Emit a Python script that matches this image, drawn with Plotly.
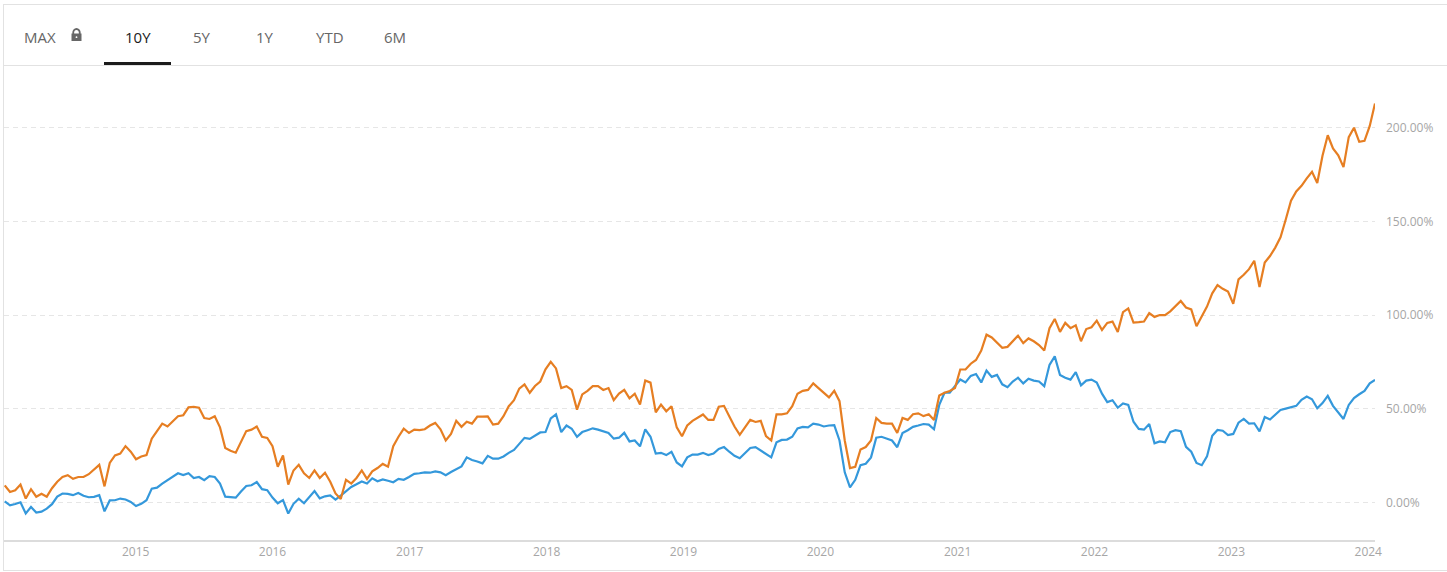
import pandas as pd
import plotly.graph_objects as go

# fortnightly closes, cumulative return in %
dates = pd.date_range("2014-01-17", periods=262, freq="14D")

orange_ret = [
    9, 5.5, 6.4, 9.5, 2, 7, 3, 4.6, 3, 7.5, 11, 13.5, 14.5, 12.5, 13.5, 13.5, 15, 17.5, 20, 8.5,
    21, 25, 26, 30, 27, 23, 24.5, 25.2, 34, 38, 42, 40.5, 43, 46, 46.5, 50.7, 51, 50.5, 45, 44.5,
    46, 40, 29, 27.5, 26.5, 32.5, 38,
    38.8, 40.5, 35, 34.4, 30, 19, 25, 9.5, 17, 20, 15.5, 13, 17, 13, 15.8, 11, 4.7, 1.8, 12, 10,
    13, 17, 12.5, 16.5, 18.3, 20.5, 19, 30, 35, 39.3, 37, 38.8, 38.5, 39, 41, 42.4, 39, 33, 36.5,
    43.5, 40.3, 43, 42, 45.7, 45.7,
    45.9, 41.5, 42, 46, 51.3, 54.5, 60.7, 63, 58.5, 62.1, 64.5, 71, 75, 71.5, 61, 62, 60, 49.5,
    57.6, 59.5, 62, 62, 60, 61, 54.5, 58, 60, 55.5, 58, 52.2, 65, 63.9, 48, 52.2, 48.6, 51.3, 40,
    35.3, 41, 43.5, 45, 46.9, 44, 44, 51, 51.5,
    46, 40.5, 36, 40.3, 44, 42.9, 43.5, 35.3, 33, 47, 47, 47.5, 51.3, 58, 59.5, 60, 63.5, 61,
    58.5, 56, 59.5, 54, 33, 18.3, 19, 28.2, 29.5, 33, 45, 42.4, 42, 42, 37, 45, 44, 47, 47.5, 46,
    47, 44, 57, 58.5, 59.4, 61, 70.9, 70.9, 74,
    76, 81, 89.5, 88, 85.5, 82.5, 83, 86, 89, 85, 87.5, 86, 84, 81, 93, 97.9, 91, 95.8, 93, 94.5,
    86, 92.5, 93.5, 97, 92, 95.8, 96.5, 91, 101.5, 103.5, 96, 96.2, 96.5, 101, 99, 100, 100, 102,
    104.5, 107.5, 104, 103, 94, 99.6, 104.5,
    111.6, 116, 114, 112.5, 106, 119, 121.5, 124.5, 129, 115, 128, 131.5, 136, 141.5, 151, 161,
    166, 169, 173, 176.5, 170.5, 185, 196, 189, 185.3, 179, 195, 200, 192.5, 193, 201, 213,
]

blue_ret = [
    0.5, -1.6, -0.9, 0, -6, -2.5, -5.5, -5, -3.4, -1, 3, 4.7, 4.5, 3.8, 5, 3.5, 2.7, 2.9, 3.8, -4.8,
    1, 1.1, 2, 1.5, 0.2, -2, -0.8, 1.1, 7.3, 7.8, 10, 11.8, 14, 15.5, 14.5, 15.5, 13, 13.5, 11.8,
    14, 13.5, 10, 3, 2.7, 2.5, 5.8, 8.7,
    9.1, 10.8, 7, 6.5, 2.5, -0.5, 1.2, -6, -0.8, 1.9, -0.5, 2.5, 6, 2.1, 3.2, 3.7, 1.4, 3.6, 5.8,
    8.2, 9.6, 11.1, 10, 12.8, 11.2, 12.2, 11.5, 10.7, 12.5, 12, 13.5, 15.2, 15.5, 16, 15.8, 16.5,
    16, 14.5, 16.2, 17.9, 19.2, 24, 22.6, 21.8, 20.8,
    24.8, 23.3, 23.3, 24.5, 26.4, 28, 31.2, 34.4, 33.9, 35.8, 37.3, 37.5, 44.8, 47, 37.5, 41, 39.3,
    35, 37.5, 38.5, 39.5, 38.8, 38, 37, 34, 34.5, 37.1, 32.5, 33, 29.9, 39, 35, 26, 26.4, 25.2, 27,
    21.3, 19.2, 24, 25.5, 25.5, 26.4, 25.2, 26, 28.5, 29.5,
    27, 24.8, 23.5, 26.5, 29, 29.5, 27.5, 25.8, 24, 32, 33.3, 33.5, 35, 39.5, 40.3, 40, 42, 41.5,
    40.5, 41, 41.2, 33, 16, 8, 12, 19.8, 20.6, 24, 34.5, 35, 34, 33, 29.4, 37, 38.5, 40.3, 41,
    41.8, 41.5, 39, 52, 58.5, 58.5, 62, 65.6, 64, 67.5,
    68.5, 64, 70.4, 67, 68, 63, 61.5, 64.5, 66.5, 63.5, 66, 65, 64.5, 62, 73.4, 77.9, 68, 66.5,
    65.5, 69.5, 62.5, 65, 65.5, 64, 58, 53.5, 54.5, 50.5, 52.8, 52, 43, 39.2, 38.8, 41.8, 31.5,
    32.5, 32, 37.5, 38.5, 38, 29.6, 27, 21, 19.8, 24.5,
    35.5, 38.6, 38.2, 35.9, 36.5, 42.5, 44.5, 42, 42.2, 37.9, 45.5, 44.2, 46.5, 49.3, 50, 50.8,
    51.5, 54.7, 56.5, 55, 50.2, 53, 56.8, 51.5, 47.9, 44.5, 52, 55.7, 57.7, 59.5, 63.5, 65.4,
]

year_ticks = [str(y) for y in range(2015, 2025)]
pct_ticks = [0, 50, 100, 150, 200]
tabs = ["MAX", "10Y", "5Y", "1Y", "YTD", "6M"]
tab_x = [40, 138, 202, 265, 330, 395]
active_tab = "10Y"

W, H = 1447, 572
L, R, T, B = 4, 72, 80, 32


# pixel -> paper helpers for the decoration around the plot
def px(x):
    return (x - L) / (W - L - R)


def py(y):
    return (H - B - y) / (H - T - B)


fig = go.Figure()
fig.add_trace(go.Scatter(x=dates, y=blue_ret, mode='lines',
                         line=dict(color='#3498db', width=2.2), name='Blue'))
fig.add_trace(go.Scatter(x=dates, y=orange_ret, mode='lines',
                         line=dict(color='#e67e22', width=2.2), name='Orange'))

grey = '#e2e2e2'
shapes = [
    dict(type='line', xref='paper', yref='paper', x0=px(3), x1=px(W), y0=py(4.5), y1=py(4.5),
         line=dict(color=grey, width=1)),
    dict(type='line', xref='paper', yref='paper', x0=px(3), x1=px(W), y0=py(65.5), y1=py(65.5),
         line=dict(color=grey, width=1)),
    dict(type='line', xref='paper', yref='paper', x0=px(3.5), x1=px(3.5), y0=py(4.5), y1=py(571),
         line=dict(color=grey, width=1)),
    dict(type='line', xref='paper', yref='paper', x0=px(3), x1=px(W), y0=py(570.5), y1=py(570.5),
         line=dict(color=grey, width=1)),
    # active tab underline
    dict(type='rect', xref='paper', yref='paper', x0=px(104), x1=px(171), y0=py(62), y1=py(65),
         fillcolor='#1b1b1b', line=dict(width=0)),
    # padlock
    dict(type='circle', xref='paper', yref='paper', x0=px(73.2), x1=px(79.8), y0=py(29), y1=py(37),
         line=dict(color='#666666', width=1.8)),
    dict(type='rect', xref='paper', yref='paper', x0=px(71.5), x1=px(81.5), y0=py(33.5), y1=py(41),
         fillcolor='#666666', line=dict(width=0)),
    dict(type='circle', xref='paper', yref='paper', x0=px(75.6), x1=px(77.4), y0=py(36.3), y1=py(38.1),
         fillcolor='white', line=dict(width=0)),
]

annotations = []
for name, cx in zip(tabs, tab_x):
    annotations.append(dict(
        text=name, x=px(cx), y=py(37), xref='paper', yref='paper',
        xanchor='center', yanchor='middle', showarrow=False,
        font=dict(family='Open Sans', size=15,
                  color='#1b1b1b' if name == active_tab else '#666666')))

fig.update_layout(
    width=W, height=H,
    margin=dict(l=L, r=R, t=T, b=B),
    paper_bgcolor='white', plot_bgcolor='white',
    showlegend=False,
    font=dict(family='Open Sans', size=12, color='#a6a6a6'),
    shapes=shapes,
    annotations=annotations,
    xaxis=dict(
        range=['2014-01-15', '2024-01-19'],
        tickvals=[y + '-01-01' for y in year_ticks], ticktext=year_ticks,
        showgrid=False, zeroline=False,
        showline=True, linecolor='#dcdcdc', linewidth=2,
        ticks='', tickfont=dict(size=12, color='#a6a6a6'),
    ),
    yaxis=dict(
        side='right', range=[-20.13, 225.5],
        tickvals=pct_ticks, ticktext=['{:.2f}%'.format(v) for v in pct_ticks],
        showgrid=True, gridcolor='#e6e6e6', griddash='5px,4px', gridwidth=1,
        zeroline=False, showline=False, ticks='', ticklabelstandoff=10,
        tickfont=dict(size=12, color='#a6a6a6'),
    ),
)

# drop the default page margin so the figure sits at the top-left corner
fig.write_html("out.html", config={'displayModeBar': False},
               post_script="document.body.style.margin='0';")
